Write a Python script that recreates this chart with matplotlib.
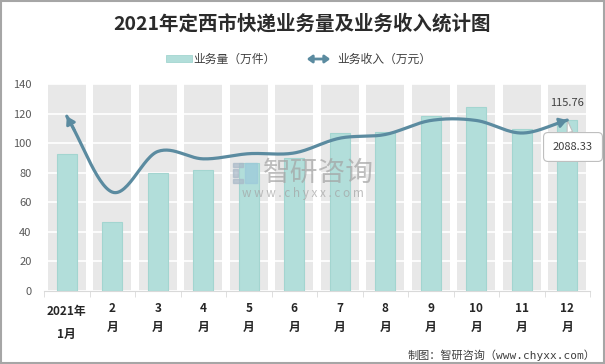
import numpy as np
import matplotlib
matplotlib.use("Agg")
import matplotlib.pyplot as plt
from matplotlib.patches import Rectangle, FancyArrowPatch
from matplotlib.transforms import blended_transform_factory

plt.rcParams['font.family'] = ['Noto Sans CJK SC', 'DejaVu Sans']

# ---------------- data ----------------
months_top = ["2021年", "2", "3", "4", "5", "6", "7", "8", "9", "10", "11", "12"]
months_bottom = ["1月", "月", "月", "月", "月", "月", "月", "月", "月", "月", "月", "月"]
volume = [1679, 848, 1446, 1484, 1569, 1630, 1926, 1946, 2137, 2245, 1978, 2088.33]   # 万件
income = [118.4, 67.0, 94.5, 89.5, 93.0, 93.5, 103.5, 106.0, 115.5, 115.5, 107.0, 115.76]  # 万元
yticks = [0, 20, 40, 60, 80, 100, 120, 140]
title = "2021年定西市快递业务量及业务收入统计图"
legend_bar = "业务量（万件）"
legend_line = "业务收入（万元）"
source = "制图：智研咨询（www.chyxx.com）"

W, H = 605, 364
fig = plt.figure(figsize=(W / 100, H / 100), dpi=100)


def fx(x):
    return x / W


def fy(y):
    return 1 - y / H


teal = "#B2DEDA"
teal_edge = "#A3D5D0"
line_c = "#5B8BA0"
gray_col = "#E8E8E8"

x = np.arange(len(volume))

# base axes: gray columns + grid + ticks
ax = fig.add_axes([fx(44), fy(291), fx(590) - fx(44), (291 - 84.3) / H])
ax.bar(x, [yticks[-1]] * len(x), width=0.84, color=gray_col, zorder=1)
ax.set_ylim(0, 140)
ax.set_xlim(-0.5, len(x) - 0.5)
ax.set_yticks(yticks)
ax.set_yticklabels([str(v) for v in yticks], fontsize=8, color="#595959")
ax.tick_params(axis='y', length=0, pad=9)
ax.set_axisbelow('line')
ax.yaxis.grid(True, color="white", lw=1.2)
for s in ["top", "right", "left"]:
    ax.spines[s].set_visible(False)
ax.spines["bottom"].set_color("#D9D9D9")
ax.set_xticks(x)
ax.set_xticklabels([""] * len(x))
ax.tick_params(axis='x', which='major', length=0)
ax.set_xticks(np.arange(-0.5, len(x), 1.0), minor=True)
ax.tick_params(axis='x', which='minor', length=4, color="#D9D9D9")

# x labels
tr = blended_transform_factory(ax.transData, fig.transFigure)
for i in range(len(x)):
    y1, y2 = (312, 334) if i == 0 else (308, 327)
    ax.text(i, fy(y1), months_top[i], transform=tr, ha='center', va='center',
            fontsize=8.5, fontweight='bold', color="#262626")
    ax.text(i, fy(y2), months_bottom[i], transform=tr, ha='center', va='center',
            fontsize=8.5, fontweight='bold', color="#262626")

# watermark
fig.text(fx(318), fy(173), "智研咨询", fontsize=20, color="#A3A3A3", alpha=0.7,
         ha='center', va='center', zorder=3)
fig.text(fx(303), fy(193), "w w w . c h y x x . c o m", fontsize=8.5, color="#A3A3A3", alpha=0.7,
         ha='center', va='center', zorder=3)
for (x0, y0, w0, h0, c) in [(233, 163, 10, 4, "#A9B8C8"), (233, 169, 5, 8, "#A9B8C8"),
                            (233, 179, 10, 4, "#A9B8C8"), (245, 163, 12, 20, "#9CC9DA")]:
    fig.patches.append(Rectangle((fx(x0), fy(y0 + h0)), w0 / W, h0 / H, transform=fig.transFigure,
                                 color=c, alpha=0.7, zorder=3))

# bars on secondary (hidden) axis
axb = ax.twinx()
axb.bar(x, volume, width=0.44, color=teal, edgecolor=teal_edge, lw=0.8, zorder=2)
axb.set_ylim(0, 2527)
axb.set_yticks([])
for s in axb.spines.values():
    s.set_visible(False)
axb.patch.set_visible(False)

# smooth line on primary scale
axl = ax.twinx()
axl.set_ylim(0, 140)
axl.set_yticks([])
for s in axl.spines.values():
    s.set_visible(False)
axl.patch.set_visible(False)


def catmull(xs, ys, n=30):
    pts = np.column_stack([xs, ys]).astype(float)
    P = np.vstack([2 * pts[0] - pts[1], pts, 2 * pts[-1] - pts[-2]])
    out = []
    for i in range(1, len(P) - 2):
        p0, p1, p2, p3 = P[i - 1], P[i], P[i + 1], P[i + 2]
        t = np.linspace(0, 1, n, endpoint=False)[:, None]
        seg = 0.5 * ((2 * p1) + (-p0 + p2) * t + (2 * p0 - 5 * p1 + 4 * p2 - p3) * t ** 2
                     + (-p0 + 3 * p1 - 3 * p2 + p3) * t ** 3)
        out.append(seg)
    out.append(pts[-1:])
    return np.vstack(out)


curve = catmull(x, income)
axl.plot(curve[:, 0], curve[:, 1], color=line_c, lw=2.3, solid_capstyle='round', zorder=5)
# arrow heads at both ends
for a, b in [(0, 5), (-1, -6)]:
    axl.annotate("", xy=(curve[a, 0], curve[a, 1]), xytext=(curve[b, 0], curve[b, 1]),
                 arrowprops=dict(arrowstyle="-|>,head_length=0.45,head_width=0.28", color=line_c, lw=2.0,
                                 shrinkA=0, shrinkB=0), zorder=6)

# data labels
axl.annotate(f"{income[-1]:.2f}", xy=(x[-1], income[-1]), xytext=(0, 12), textcoords='offset points',
             ha='center', va='center', fontsize=8, color="#404040", annotation_clip=False)
axb.annotate(f"{volume[-1]:.2f}", xy=(x[-1], volume[-1]), xytext=(fx(573), fy(147)),
             textcoords='figure fraction', ha='center', va='center', fontsize=8, color="#404040",
             bbox=dict(boxstyle="round,pad=0.85,rounding_size=0.4", fc="white", ec="#BFBFBF", lw=0.8),
             arrowprops=dict(arrowstyle="wedge,tail_width=0.5,shrink_factor=0.5", fc="white", ec="#BFBFBF",
                             lw=0.8, shrinkA=0, shrinkB=0),
             annotation_clip=False, zorder=7)

# title
fig.text(0.5, fy(24), title, ha='center', va='center', fontsize=14, fontweight='bold', color="#2B2B2B")

# legend
fig.patches.append(Rectangle((fx(166), fy(62)), 26 / W, 7 / H, transform=fig.transFigure,
                             fc=teal, ec=teal_edge, lw=0.6))
fig.text(fx(193), fy(59), legend_bar, ha='left', va='center', fontsize=8.5, color="#404040")
fig.patches.append(FancyArrowPatch((fx(304), fy(59)), (fx(333), fy(59)), transform=fig.transFigure,
                                   arrowstyle="<|-|>,head_length=3,head_width=2.2", color=line_c, lw=2.0))
fig.text(fx(337), fy(59), legend_line, ha='left', va='center', fontsize=8.5, color="#404040")

# source
fig.text(fx(595), fy(355), source, ha='right', va='center', fontsize=8, color="#404040",
         family=['DejaVu Sans Mono', 'Noto Sans CJK SC'])

# frame
fig.patches.append(Rectangle((0.001, 0.002), 0.997, 0.995, transform=fig.transFigure, fill=False,
                             ec="#A6A6A6", lw=1.5))

fig.savefig("out.png", dpi=100)
